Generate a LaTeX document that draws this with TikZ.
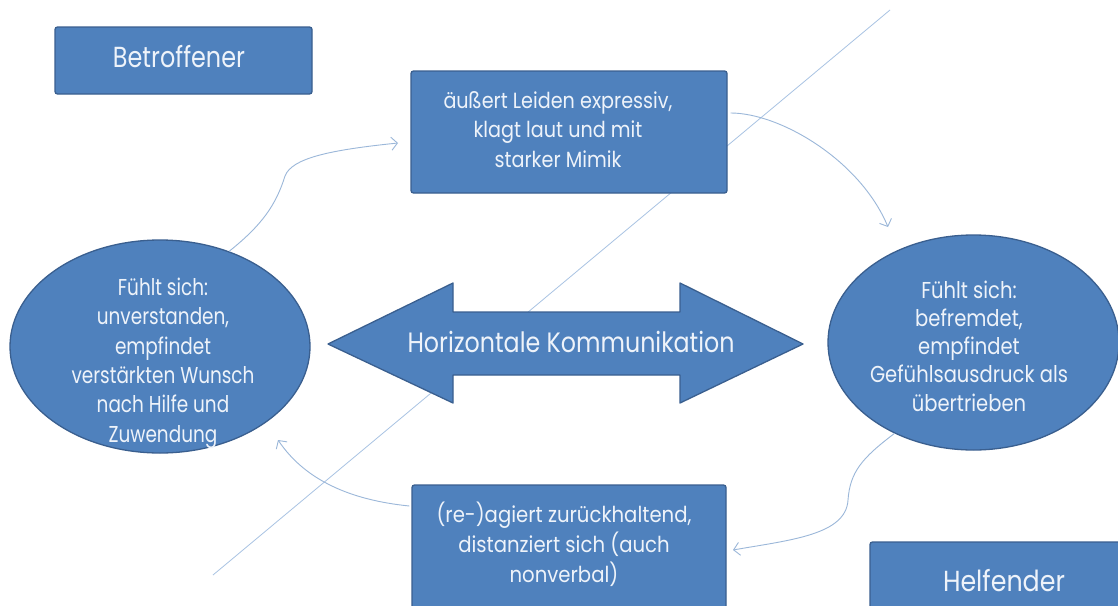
\documentclass[tikz,border=0pt]{standalone}
\usepackage{fontspec}
\setmainfont{Poppins}
\usepackage{graphicx}
\usetikzlibrary{arrows.meta,shapes.geometric}
\definecolor{boxfill}{HTML}{4F81BD}
\definecolor{boxline}{HTML}{3A5F8F}
\definecolor{txtc}{HTML}{EEF3FA}
\definecolor{connc}{HTML}{9BB7D9}
\definecolor{diagc}{HTML}{A9C3E3}
\newcommand{\fitline}[3]{\resizebox{#1pt}{\height}{\fontsize{#2}{#2}\selectfont #3}}
\newcommand{\fitblock}[4]{\resizebox{#1pt}{\height}{\fontsize{#2}{#3}\selectfont\begin{tabular}{@{}c@{}}#4\end{tabular}}}
\tikzset{
  box/.style={draw=boxline, line width=1.3pt, fill=boxfill, rounded corners=2.5pt, inner sep=0pt},
  ell/.style={ellipse, draw=boxline, line width=1.3pt, fill=boxfill, inner sep=0pt},
  lbl/.style={text=txtc, inner sep=0pt},
  cline/.style={draw=connc, line width=0.9pt, -{Straight Barb[length=6pt,width=13pt]}},
  diag/.style={draw=diagc, line width=0.8pt}
}
\begin{document}
\begin{tikzpicture}[x=1pt,y=-1pt]
\useasboundingbox (0,0) rectangle (1118,605);
\fill[white] (0,0) rectangle (1118,605);
\clip (0,0) rectangle (1118,605);
% diagonal line (behind everything)
\coordinate (dA) at (213,575);
\coordinate (dB) at (890,10);
\draw[diag] (dA) -- (dB);
% boxes
\node[box, minimum width=257pt, minimum height=67pt] (bet) at (183.5,60.5) {};
\node[lbl] (bett) at (179,57) {\fitline{132}{29}{Betroffener}};
\node[box, minimum width=316pt, minimum height=122pt] (tb) at (569,132) {};
\node[lbl] (tbt) at (558,131.6) {\fitblock{229}{22}{29.5}{äußert Leiden expressiv,\\ klagt laut und mit\\ starker Mimik}};
\node[box, minimum width=314pt, minimum height=130pt] (bb) at (569,550) {};
\node[lbl] (bbt) at (564,546) {\fitblock{255}{22}{30}{(re-)agiert zurückhaltend,\\ distanziert sich (auch\\ nonverbal)}};
\node[box, minimum width=257pt, minimum height=67pt] (hel) at (998.5,575.5) {};
\node[lbl] (helt) at (1004,581) {\fitline{122}{29}{Helfender}};
% ellipses
\node[ell, minimum width=300pt, minimum height=213pt] (le) at (160,346.5) {};
\node[lbl] (let) at (163,363) {\fitblock{183}{23}{29.4}{Fühlt sich:\\ unverstanden,\\ empfindet\\ verstärkten Wunsch\\ nach Hilfe und\\ Zuwendung}};
\node[ell, minimum width=291pt, minimum height=215pt] (re) at (973.5,342.5) {};
\node[lbl] (ret) at (969,349) {\fitblock{198}{23}{28.3}{Fühlt sich:\\ befremdet,\\ empfindet\\ Gefühlsausdruck als\\ übertrieben}};
% double arrow
\draw[draw=boxline, line width=1.3pt, fill=boxfill, line join=round]
  (328,344) -- (453,283) -- (453,312) -- (680,312) -- (680,283) -- (803,344)
  -- (680,403) -- (680,375) -- (453,375) -- (453,403) -- cycle;
\node[lbl] (hk) at (571,342) {\fitline{327}{28}{Horizontale Kommunikation}};
% connectors
\coordinate (c1e) at (398,143);
\draw[cline] (le.54) .. controls (262,225) and (276,205) .. (285,176)
  .. controls (292,158) and (330,150) .. (c1e);
\coordinate (c2e) at (888,227);
\draw[cline] ([xshift=3pt,yshift=19pt]tb.east) .. controls (780,113) and (860,160) .. (c2e);
\coordinate (c3e) at (733,550);
\draw[cline] (re.229) .. controls (862,458) and (850,472) .. (848,500)
  .. controls (846,535) and (790,540) .. (c3e);
\coordinate (c4e) at (278,440);
\draw[cline] ([xshift=-2pt,yshift=44pt]bb.west) .. controls (350,500) and (305,480) .. (c4e);
\end{tikzpicture}
\end{document}
